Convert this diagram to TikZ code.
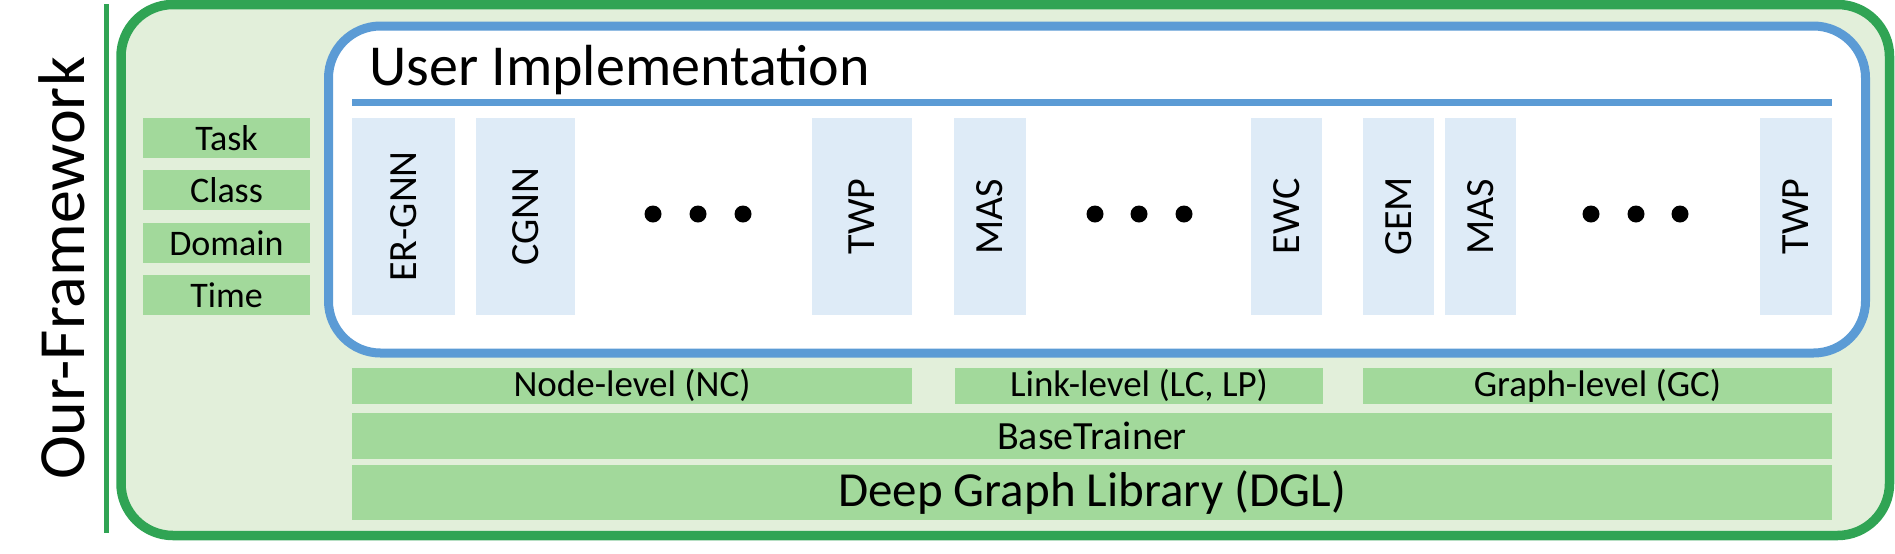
\documentclass[tikz,border=0pt]{standalone}
\usepackage{fontspec}
\setmainfont{Carlito}
\definecolor{fwgreen}{RGB}{48,164,84}
\definecolor{fwfill}{RGB}{226,239,218}
\definecolor{barfill}{RGB}{162,217,155}
\definecolor{ublue}{RGB}{91,155,213}
\definecolor{colfill}{RGB}{222,235,247}
\begin{document}
\begin{tikzpicture}[x=0.5pt,y=-0.5pt,
  bar/.style={fill=barfill, inner sep=0pt, minimum height=18pt, font=\fontsize{18.5}{20}\selectfont},
  widebar/.style={fill=barfill, inner sep=0pt, minimum width=740pt},
  typebox/.style={fill=barfill, inner sep=0pt, minimum width=83.5pt, minimum height=20pt, font=\fontsize{18}{20}\selectfont},
  algcol/.style={fill=colfill, rotate=90, inner sep=0pt, minimum width=98.5pt, font=\fontsize{20}{22}\selectfont},
  dotmark/.style={circle, fill=black, inner sep=0pt, minimum size=8.5pt}
]
\useasboundingbox (0,0) rectangle (1895,553);
% outer frame
\draw[fwgreen, line width=4.75pt, fill=fwfill, rounded corners=26pt] (121,4.5) rectangle (1889.5,535.5);
\coordinate (vtop) at (106.5,4);
\coordinate (vbot) at (106.5,533);
\draw[fwgreen, line width=2.5pt] (vtop) -- (vbot);
\node[rotate=90, anchor=base, inner sep=0pt, font=\fontsize{33}{36}\selectfont] (fw) at (84,268.5) {Our-Framework};
% user implementation box
\draw[ublue, line width=4.5pt, fill=white, rounded corners=26pt] (328.5,26) rectangle (1865.5,353);
\coordinate (sepl) at (352,102.5);
\coordinate (sepr) at (1832,102.5);
\draw[ublue, line width=3.25pt] (sepl) -- (sepr);
\node[anchor=base west, inner sep=0pt, font=\fontsize{29}{32}\selectfont] (ui) at (369,85) {User Implementation};
% algorithm columns
\node[algcol, minimum height=51.5pt] (ergnn) at (403.5,216.5) {ER-GNN};
\node[algcol, minimum height=49.5pt] (cgnn) at (525.5,216.5) {CGNN};
\node[algcol, minimum height=50pt] (twpa) at (862,216.5) {TWP};
\node[algcol, minimum height=36pt] (masa) at (990,216.5) {MAS};
\node[algcol, minimum height=35.5pt] (ewc) at (1286.5,216.5) {EWC};
\node[algcol, minimum height=35.5pt] (gem) at (1398.5,216.5) {GEM};
\node[algcol, minimum height=35.5pt] (masb) at (1480.5,216.5) {MAS};
\node[algcol, minimum height=36pt] (twpb) at (1796,216.5) {TWP};
% dots
\foreach \x [count=\i] in {653,698,743,1095,1139,1184,1591,1636,1680}
  \node[dotmark] (d\i) at (\x,214) {};
% level bars
\node[bar, minimum width=280pt] (nodelvl) at (632,386) {Node-level (NC)};
\node[bar, minimum width=184pt] (linklvl) at (1139,386) {Link-level (LC, LP)};
\node[bar, minimum width=234.5pt] (graphlvl) at (1597.5,386) {Graph-level (GC)};
\node[widebar, minimum height=23pt, font=\fontsize{20}{22}\selectfont] (base) at (1092,436) {BaseTrainer};
\node[widebar, minimum height=27.5pt, font=\fontsize{24.5}{27}\selectfont] (dgl) at (1092,492.5) {Deep Graph Library (DGL)};
% scenario boxes
\node[typebox] (task) at (226.5,138) {Task};
\node[typebox] (class) at (226.5,190) {Class};
\node[typebox] (domain) at (226.5,243) {Domain};
\node[typebox] (time) at (226.5,295) {Time};
\end{tikzpicture}
\end{document}
